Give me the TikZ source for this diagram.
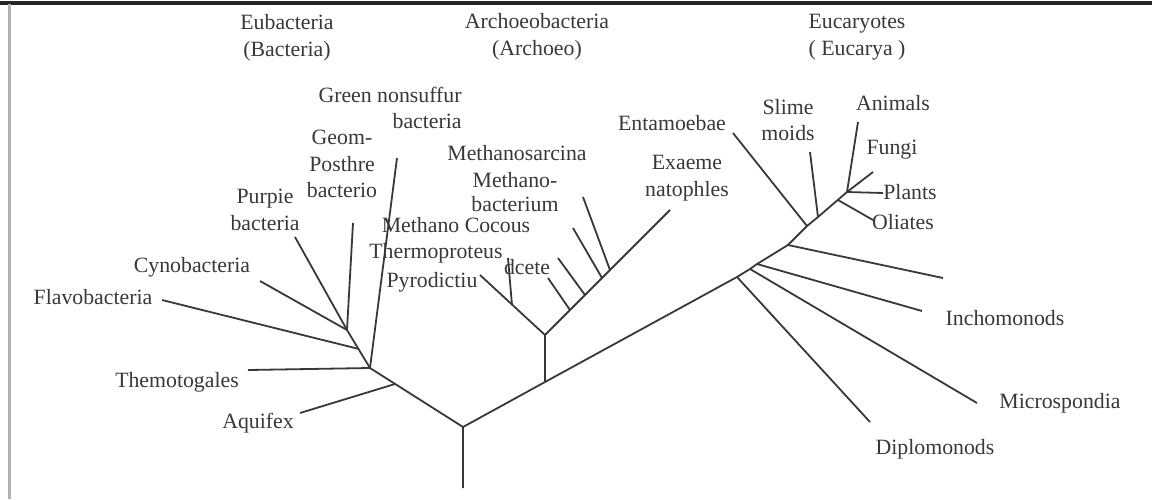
\documentclass[tikz,border=0pt]{standalone}
\usepackage{fontspec}
\setmainfont{Liberation Serif}
\begin{document}
\begin{tikzpicture}[
  x=0.5pt, y=-0.5pt,
  font=\fontsize{10.9}{13.4}\selectfont,
  taxon/.style={text=black!78, inner sep=0pt, align=center},
  branch/.style={draw=black!78, line width=0.9pt, line join=round}
]
\useasboundingbox (0,0) rectangle (1152,499);
\draw[black!85, line width=1.6pt] (0,3) -- (1152,3);
\draw[black!30, line width=1.5pt] (9,4) -- (9,499);

% domains
\node[taxon] (eub) at (287,38) {Eubacteria\\(Bacteria)};
\node[taxon] (arc) at (537,37) {Archoeobacteria\\(Archoeo)};
\node[taxon] (euc) at (857,37) {Eucaryotes\\( Eucarya )};

% bacteria
\node[taxon, anchor=east, align=right] (green) at (462,108) {Green nonsuffur\\bacteria};
\node[taxon] (gram) at (342,164) {Geom-\\Posthre\\bacterio};
\node[taxon] (purple) at (265,210) {Purpie\\bacteria};
\node[taxon] (cyno) at (192,267) {Cynobacteria};
\node[taxon] (flavo) at (93,297) {Flavobacteria};
\node[taxon] (thermo) at (177,382) {Themotogales};
\node[taxon] (aqui) at (258,423) {Aquifex};

% archaea
\node[taxon] (msarc) at (517,153) {Methanosarcina};
\node[taxon, font=\fontsize{10.9}{12}\selectfont] (mbact) at (515,192) {Methano-\\bacterium};
\node[taxon] (mcoc) at (456,225) {Methano Cocous};
\node[taxon] (tprot) at (436,253) {Thermoproteus};
\node[taxon] (pyro) at (432,282) {Pyrodictiu};
\node[taxon] (dcete) at (527,267) {dcete};
\node[taxon] (halo) at (687,178) {Exaeme\\natophles};

% eukarya
\node[taxon] (entam) at (672,123) {Entamoebae};
\node[taxon] (slime) at (788,120) {Slime\\moids};
\node[taxon] (anim) at (893,103) {Animals};
\node[taxon] (fungi) at (892,150) {Fungi};
\node[taxon] (plant) at (910,192) {Plants};
\node[taxon] (cili) at (903,222) {Oliates};
\node[taxon] (trich) at (1005,318) {Inchomonods};
\node[taxon] (micro) at (1060,403) {Microspondia};
\node[taxon] (diplo) at (935,449) {Diplomonods};

% junctions
\coordinate (root) at (463,488);
\coordinate (r) at (463,427);
\coordinate (b) at (370,368);
\coordinate (aqj) at (395,384);
\coordinate (p) at (347,330);
\coordinate (flj) at (359,349);
\coordinate (a0) at (545,382);
\coordinate (a1) at (545,335);
\coordinate (tpj) at (512,305);
\coordinate (h1) at (570,310);
\coordinate (h2) at (585,295);
\coordinate (h3) at (602,278);
\coordinate (h4) at (610,270);
\coordinate (e0) at (737,277);
\coordinate (e1) at (750,269);
\coordinate (e2) at (757,264);
\coordinate (e3) at (788,245);
\coordinate (e4) at (807,226);
\coordinate (e5) at (818,217);
\coordinate (olj) at (838,200);
\coordinate (crown) at (847,192);

% free ends
\coordinate (aqi-e) at (300,413);
\coordinate (thm-e) at (248,370);
\coordinate (flv-e) at (162,300);
\coordinate (cyn-e) at (260,281);
\coordinate (pur-e) at (295,237);
\coordinate (grm-e) at (353,223);
\coordinate (grn-e) at (397,158);
\coordinate (pyr-e) at (480,275);
\coordinate (tpr-e) at (508,258);
\coordinate (h1-e) at (548,278);
\coordinate (h2-e) at (558,258);
\coordinate (h3-e) at (573,228);
\coordinate (h4-e) at (583,197);
\coordinate (hal-e) at (670,210);
\coordinate (dip-e) at (870,422);
\coordinate (mic-e) at (977,403);
\coordinate (tri-e) at (922,311);
\coordinate (e3-e) at (943,278);
\coordinate (ent-e) at (733,133);
\coordinate (sli-e) at (810,152);
\coordinate (ani-e) at (858,122);
\coordinate (fun-e) at (873,172);
\coordinate (pla-e) at (883,193);
\coordinate (oli-e) at (873,220);

\draw[branch] (root) -- (r) -- (b);
\draw[branch] (b) -- (p);
\draw[branch] (aqj) -- (aqi-e);
\draw[branch] (b) -- (thm-e);
\draw[branch] (flj) -- (flv-e);
\draw[branch] (p) -- (cyn-e);
\draw[branch] (p) -- (pur-e);
\draw[branch] (p) -- (grm-e);
\draw[branch] (b) -- (grn-e);

\draw[branch] (r) -- (a0) -- (a1);
\draw[branch] (a1) -- (pyr-e);
\draw[branch] (tpj) -- (tpr-e);
\draw[branch] (a1) -- (hal-e);
\draw[branch] (h1) -- (h1-e);
\draw[branch] (h2) -- (h2-e);
\draw[branch] (h3) -- (h3-e);
\draw[branch] (h4) -- (h4-e);

\draw[branch] (a0) -- (e0) -- (e1) -- (e2) -- (e3) -- (e4) -- (e5) -- (crown);
\draw[branch] (e0) -- (dip-e);
\draw[branch] (e1) -- (mic-e);
\draw[branch] (e2) -- (tri-e);
\draw[branch] (e3) -- (e3-e);
\draw[branch] (e4) -- (ent-e);
\draw[branch] (e5) -- (sli-e);
\draw[branch] (crown) -- (ani-e);
\draw[branch] (crown) -- (fun-e);
\draw[branch] (crown) -- (pla-e);
\draw[branch] (olj) -- (oli-e);
\end{tikzpicture}
\end{document}
